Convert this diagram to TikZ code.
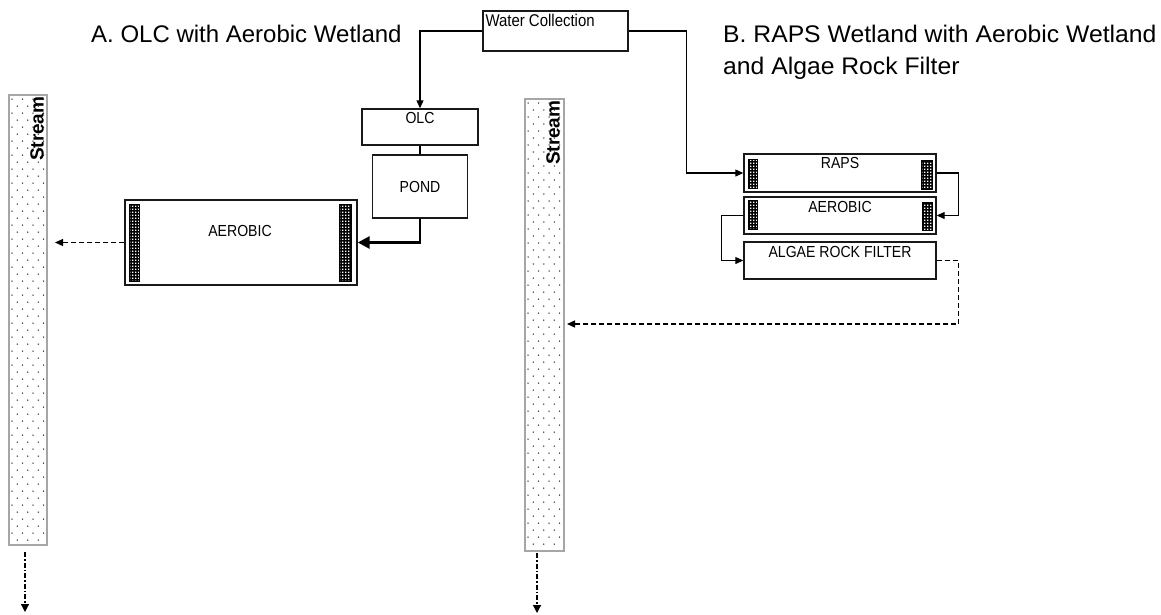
\documentclass[tikz,border=0pt]{standalone}
\usepackage{fontspec}
\setmainfont{Liberation Sans}
\newfontfamily\boxfont[FakeStretch=0.88]{Liberation Sans}
\newfontfamily\titleAfont{Liberation Sans}
\newfontfamily\titleBfont[FakeStretch=1.03]{Liberation Sans}
\usetikzlibrary{arrows.meta,patterns,calc}
\pgfdeclarepatternformonly{whitespots}{\pgfpointorigin}{\pgfqpoint{3pt}{3pt}}{\pgfqpoint{3pt}{3pt}}{%
  \pgfpathrectangle{\pgfpointorigin}{\pgfqpoint{1.7pt}{1.7pt}}%
  \pgfusepath{fill}}
\tikzset{
  box/.style={draw=black!90, line width=1.4pt, fill=white, inner sep=0pt},
  boxtext/.style={font=\boxfont\fontsize{16}{19}\selectfont, inner sep=0pt},
  strip/.style={draw=black, line width=0.9pt, preaction={fill=black}, pattern=whitespots, pattern color=white, inner sep=0pt},
  streambox/.style={draw=black!35, line width=1.3pt, inner sep=0pt, path picture={
    \foreach \r in {0,...,66}{
      \foreach \c in {0,...,4}{
        \fill[black!85] ($(path picture bounding box.north west)+({3+\c*10.5+mod(\r,2)*5.25},{4+\r*7})$) circle[radius=0.75pt];
      }
    }
  }},
  streamtext/.style={font=\bfseries\fontsize{19}{19}\selectfont, rotate=90, anchor=base east, inner sep=0pt},
  flow/.style={line width=1.2pt, -{Triangle[length=8pt,width=7pt]}},
  bigflow/.style={line width=2.8pt, -{Triangle[length=12pt,width=12pt]}},
  dashflow/.style={line width=1.2pt, dash pattern=on 5pt off 3pt, -{Triangle[length=8pt,width=7pt]}},
  dotflow/.style={line width=1.2pt, dash pattern=on 5pt off 2pt on 1.5pt off 2pt, -{Triangle[length=8pt,width=8pt]}},
  plainline/.style={line width=1.2pt}
}
\begin{document}
\begin{tikzpicture}[x=1pt,y=-1pt]
\useasboundingbox (0,0) rectangle (1161,614);

% titles
\node[font=\titleAfont\fontsize{24}{32}\selectfont, anchor=base west, inner sep=0pt] (titleA) at (91,42) {A. OLC with Aerobic Wetland};
\node[font=\titleBfont\fontsize{24}{32}\selectfont, anchor=north west, align=left, inner sep=0pt] (titleB) at (723,25) {B. RAPS Wetland with Aerobic Wetland\\and Algae Rock Filter};

% streams
\node[streambox, minimum width=38pt, minimum height=450pt] (streamA) at (28,320) {};
\node[streamtext] (streamAT) at ($(streamA.north east)+(-4,2)$) {Stream};
\node[streambox, minimum width=39pt, minimum height=452pt] (streamB) at (544.5,325) {};
\node[streamtext] (streamBT) at ($(streamB.north east)+(-5,2)$) {Stream};

% water collection
\node[box, minimum width=145pt, minimum height=40pt] (wc) at (555.5,31) {};
\node[boxtext, font=\boxfont\fontsize{17}{19}\selectfont, anchor=north west] (wcT) at ($(wc.north west)+(3,4)$) {Water Collection};

% part A
\node[box, minimum width=116pt, minimum height=36pt] (olc) at (420,127) {};
\node[boxtext, anchor=north] (olcT) at ($(olc.north)+(0,4)$) {OLC};
\node[box, font=\boxfont\fontsize{16}{19}\selectfont, minimum width=95pt, minimum height=63pt] (pond) at (420,186.5) {POND};
\node[box, minimum width=232pt, minimum height=85pt] (aerA) at (241,242.5) {};
\node[boxtext, anchor=north] (aerAT) at ($(aerA.north)+(-1,25.7)$) {AEROBIC};
\node[strip, minimum width=10pt, minimum height=77pt] (aerAl) at (134,242.5) {};
\node[strip, minimum width=12pt, minimum height=77pt] (aerAr) at (345,242.5) {};

% part B
\node[box, minimum width=192pt, minimum height=38pt] (raps) at (840,173) {};
\node[boxtext, anchor=north] (rapsT) at ($(raps.north)+(0,4)$) {RAPS};
\node[strip, minimum width=9pt, minimum height=29pt] (rapsL) at (752.8,173.8) {};
\node[strip, minimum width=10.5pt, minimum height=28.6pt] (rapsR) at (927,175) {};
\node[box, minimum width=192pt, minimum height=37pt] (aerB) at (840,215.5) {};
\node[boxtext, anchor=north] (aerBT) at ($(aerB.north)+(0,5)$) {AEROBIC};
\node[strip, minimum width=9pt, minimum height=28.6pt] (aerBL) at (752.8,215) {};
\node[strip, minimum width=10pt, minimum height=28pt] (aerBR) at (927,216.7) {};
\node[box, minimum width=192pt, minimum height=37pt] (algae) at (840,260.5) {};
\node[boxtext, anchor=north] (algaeT) at ($(algae.north)+(0,5)$) {ALGAE ROCK FILTER};

% free ends
\coordinate (inA) at (55,242.5);
\coordinate (inB) at (567,324);
\coordinate (srcA) at (25,552);
\coordinate (outA) at (25,612);
\coordinate (srcB) at (537,553);
\coordinate (outB) at (537,613);

% connectors
\draw[flow] (wc.west) -| (olc.north);
\draw[plainline] (olc.south) -- (pond.north);
\draw[bigflow] (pond.south) |- (aerA.east);
\draw[dashflow] (aerA.west) -- (inA);
\draw[flow] (wc.east) -- ++(58,0) |- (raps.west);
\draw[flow] (raps.east) -- ++(22,0) |- (aerB.east);
\draw[flow] (aerB.west) -- ++(-22,0) |- (algae.west);
\draw[dashflow] (algae.east) -- ++(22,0) |- (inB);
\draw[dotflow] (srcA) -- (outA);
\draw[dotflow] (srcB) -- (outB);
\end{tikzpicture}
\end{document}
